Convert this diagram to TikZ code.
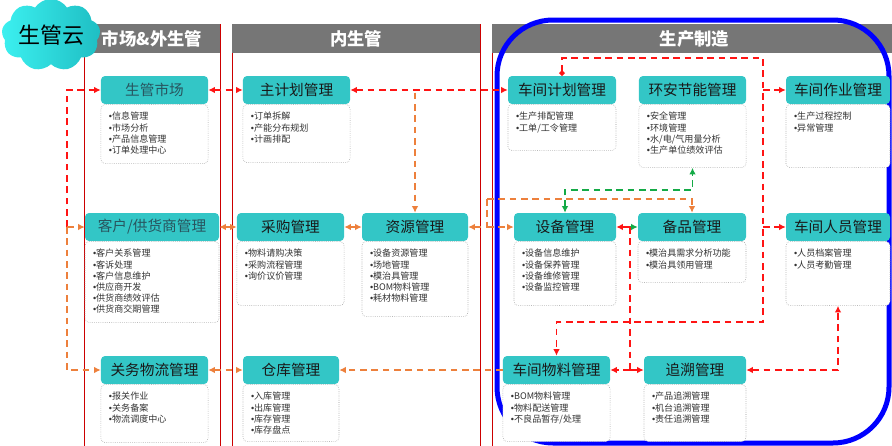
\documentclass[tikz,border=0pt]{standalone}
\usepackage{fontspec}
\setmainfont{Noto Sans CJK SC}
\newfontfamily\bulfont{Liberation Sans}
\newcommand{\bul}{{\bulfont •}}
\usepackage{xcolor}
\usepackage{tikz}
\usetikzlibrary{arrows.meta,positioning,shapes.symbols,calc}
\definecolor{tealc}{RGB}{51,198,198}
\definecolor{hdgray}{RGB}{118,118,118}
\definecolor{redc}{RGB}{255,20,20}
\definecolor{orc}{RGB}{237,128,60}
\definecolor{grc}{RGB}{20,170,70}
\definecolor{slatec}{RGB}{40,85,95}
\definecolor{cloudl}{RGB}{60,240,240}
\definecolor{cloudr}{RGB}{30,190,195}

\begin{document}
\begin{tikzpicture}[
x=0.75pt,
y=-0.75pt,
every node/.style={font=\fontsize{6.8}{8.4}\selectfont},
panel/.style={draw=red!80!black,line width=0.6pt},
hdr/.style={rectangle,fill=hdgray,inner sep=0pt,minimum height=21.75pt,text=white,font=\fontsize{13}{15}\selectfont\bfseries},
modtitle/.style={rectangle,rounded corners=3pt,fill=tealc,inner sep=0pt,minimum height=21pt,text=black!90,font=\fontsize{11}{13}\selectfont},
modbody/.style={rectangle,rounded corners=3pt,draw=gray!85,densely dotted,fill=white,align=left,text=black!80,inner xsep=6pt,inner ysep=4pt,text height=7.5pt,text depth=#1},
redline/.style={draw=redc,line width=1.3pt,dash pattern=on 5pt off 3.5pt},
orline/.style={draw=orc,line width=1.3pt,dash pattern=on 5pt off 3.5pt},
grline/.style={draw=grc,line width=1.3pt,dash pattern=on 5pt off 3.5pt},
>={Latex[length=5pt,width=5pt]}
]
\useasboundingbox (0,0) rectangle (892,446);
\clip (0,0) rectangle (892,446);

% panels
\draw[panel] (84,24) rectangle (220,470);
\draw[panel] (232,24) rectangle (480,470);
\draw[panel] (492,24) rectangle (897,470);
\node[hdr,minimum width=102pt] (mkthd) at (152,38.5) {市场\&外生管};
\node[hdr,minimum width=186pt] (innerhd) at (356,38.5) {内生管};
\node[hdr,minimum width=303.75pt] (prodhd) at (694.5,38.5) {生产制造};
\draw[blue,line width=3.75pt,rounded corners=42pt] (497,20) rectangle (889,443);
\node[cloud,cloud puffs=9,cloud puff arc=115,aspect=1.6,inner sep=0pt,minimum width=72pt,minimum height=48pt,left color=cloudl,right color=cloudr,font=\fontsize{16.5}{18}\selectfont] (cloudn) at (51,35) {生管云};

% row 1
\node[modtitle,minimum width=80.3pt,text=slatec] (mktmgr) at (154.5,90) {生管市场};
\node[modbody=28.75pt,text width=68.3pt,below=0pt of mktmgr] (mktlist) {\bul 信息管理\\\bul 市场分析\\\bul 产品信息管理\\\bul 订单处理中心};
\node[modtitle,minimum width=80.3pt] (mainplan) at (296.5,90) {主计划管理};
\node[modbody=28pt,text width=68.3pt,below=0pt of mainplan] (mainlist) {\bul 订单拆解\\\bul 产能分布规划\\\bul 计画排配};
\node[modtitle,minimum width=81pt] (shopplan) at (562,90) {车间计划管理};
\node[modbody=19pt,text width=69pt,below=0pt of shopplan] (shopplanlist) {\bul 生产排配管理\\\bul 工单/工令管理};
\node[modtitle,minimum width=80.3pt] (envmgr) at (692.5,90) {环安节能管理};
\node[modbody=31.75pt,text width=68.3pt,below=0pt of envmgr] (envlist) {\bul 安全管理\\\bul 环境管理\\\bul 水/电/气用量分析\\\bul 生产单位绩效评估};
\node[modtitle,minimum width=78pt] (shopop) at (838,90) {车间作业管理};
\node[modbody=31.75pt,text width=66pt,below=0pt of shopop] (shopoplist) {\bul 生产过程控制\\\bul 异常管理};

% row 2
\node[modtitle,minimum width=100.5pt,text=slatec] (custsup) at (152,227) {客户/供货商管理};
\node[modbody=45.25pt,text width=88.5pt,below=0pt of custsup] (custlist) {\bul 客户关系管理\\\bul 客诉处理\\\bul 客户信息维护\\\bul 供应商开发\\\bul 供货商绩效评估\\\bul 供货商交期管理};
\node[modtitle,minimum width=80.3pt] (purch) at (290.5,227) {采购管理};
\node[modbody=32.5pt,text width=68.3pt,below=0pt of purch] (purchlist) {\bul 物料请购决策\\\bul 采购流程管理\\\bul 询价议价管理};
\node[modtitle,minimum width=79.5pt] (resmgr) at (415,227) {资源管理};
\node[modbody=40.75pt,text width=67.5pt,below=0pt of resmgr] (reslist) {\bul 设备资源管理\\\bul 场地管理\\\bul 模治具管理\\\bul BOM物料管理\\\bul 耗材物料管理};
\node[modtitle,minimum width=76.5pt] (equip) at (565,227) {设备管理};
\node[modbody=32.5pt,text width=64.5pt,below=0pt of equip] (equiplist) {\bul 设备信息维护\\\bul 设备保养管理\\\bul 设备维修管理\\\bul 设备监控管理};
\node[modtitle,minimum width=81pt] (spare) at (692,227) {备品管理};
\node[modbody=15.25pt,text width=69pt,below=0pt of spare] (sparelist) {\bul 模治具需求分析功能\\\bul 模治具领用管理};
\node[modtitle,minimum width=78pt] (staff) at (838,227) {车间人员管理};
\node[modbody=32.5pt,text width=66pt,below=0pt of staff] (stafflist) {\bul 人员档案管理\\\bul 人员考勤管理};

% row 3
\node[modtitle,minimum width=80.3pt] (customs) at (154.5,370) {关务物流管理};
\node[modbody=28pt,text width=68.3pt,below=0pt of customs] (customslist) {\bul 报关作业\\\bul 关务备案\\\bul 物流调度中心};
\node[modtitle,minimum width=72pt] (store) at (291,370) {仓库管理};
\node[modbody=27.25pt,text width=60pt,below=0pt of store] (storelist) {\bul 入库管理\\\bul 出库管理\\\bul 库存管理\\\bul 库存盘点};
\node[modtitle,minimum width=80.3pt] (shopmat) at (556.5,370) {车间物料管理};
\node[modbody=27.25pt,text width=68.3pt,below=0pt of shopmat] (shopmatlist) {\bul BOM物料管理\\\bul 物料配送管理\\\bul 不良品暂存/处理};
\node[modtitle,minimum width=76.5pt] (trace) at (695,370) {追溯管理};
\node[modbody=27.25pt,text width=64.5pt,below=0pt of trace] (tracelist) {\bul 产品追溯管理\\\bul 机台追溯管理\\\bul 责任追溯管理};

% connectors
\coordinate (lftj) at (67,227);
\coordinate (eqj) at (487,199);
\coordinate (grj) at (565,190);
\coordinate (eqspj) at (630,227);
\coordinate (looptop) at (763,58);
\coordinate (loopbot) at (763,322);

\draw[redline,->] (lftj) |- (mktmgr.west);
\draw[orline,->] (lftj) -- (custsup.west);
\draw[orline,->] (lftj) |- (customs.west);
\draw[redline,<->] (mktmgr.east) -- (mainplan.west);
\draw[redline,<->] (mainplan.east) -- (shopplan.west);
\draw[orline,->] ([yshift=-2pt]resmgr.north |- mainplan.east) -- (resmgr.north);
\draw[orline,<->] (custsup.east) -- (purch.west);
\draw[orline,<->] (purch.east) -- (resmgr.west);
\draw[orline,->] (eqj) |- (resmgr.east);
\draw[orline,->] (eqj |- equip.west) -- (equip.west);
\draw[orline,->] (eqj) -| (spare.north);
\draw[grline,<->] (equip.north) -- (grj) -| (envlist.south);
\draw[redline,->] (eqspj) -- (equip.east);
\draw[grline,->] (eqspj) -- (spare.west);
\draw[redline] (eqspj) -- (eqspj |- shopmat.east);
\draw[redline,->] (eqspj |- shopmat.east) -- (shopmat.east);
\draw[redline,->] (eqspj |- shopmat.east) -- (trace.west);
\draw[redline,{Circle[length=4pt]}->] (shopplan.north) |- (looptop) -- (loopbot) -| (shopmat.north);
\draw[redline,->] (looptop |- shopop.west) -- (shopop.west);
\draw[redline,->] (looptop |- staff.west) -- (staff.west);
\draw[redline,<->] (trace.east) -| (stafflist.south);
\draw[orline,<->] (customs.east) -- (store.west);
\draw[orline,->] (shopmat.west) -- (store.east);
\end{tikzpicture}
\end{document}
